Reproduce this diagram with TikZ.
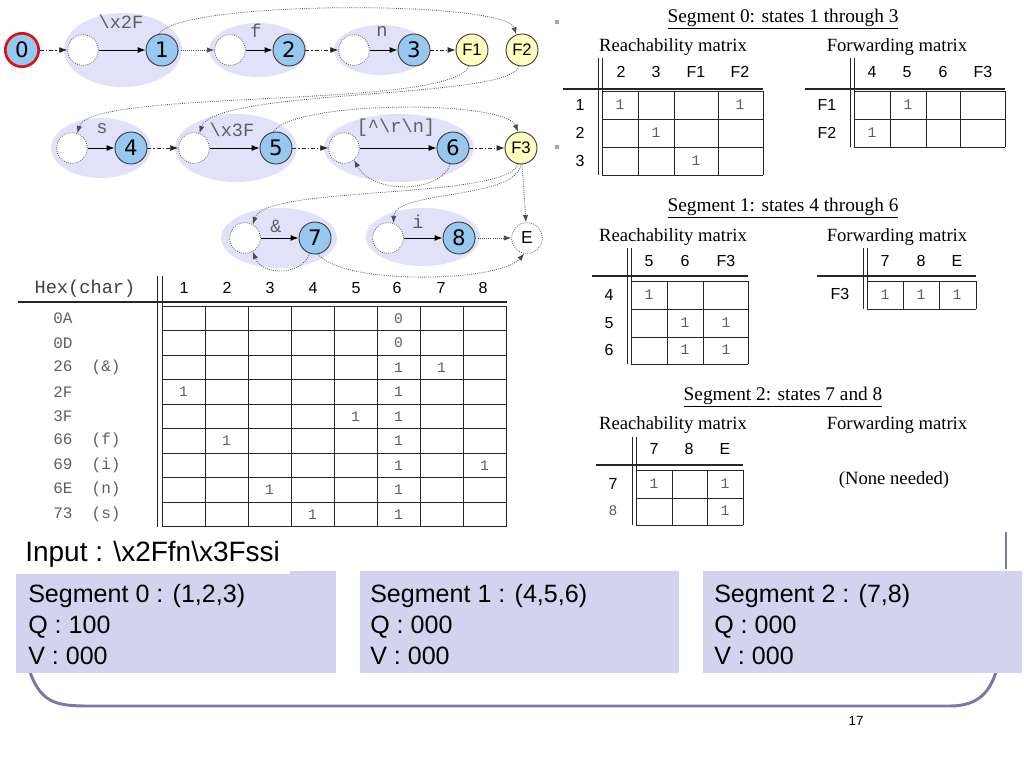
\documentclass[tikz,border=0pt]{standalone}
\usepackage{fontspec}
\setmainfont{Liberation Serif}
\setsansfont{Liberation Sans}
\setmonofont{Liberation Mono}
\newfontfamily\dejavu{DejaVu Sans}
\usetikzlibrary{arrows.meta}
\definecolor{nodeblue}{RGB}{150,200,240}
\definecolor{nodeyellow}{RGB}{255,255,192}
\definecolor{ellfill}{RGB}{225,225,249}
\definecolor{boxfill}{RGB}{211,211,240}
\definecolor{brk}{RGB}{120,120,170}
\definecolor{labgray}{RGB}{95,95,95}
\definecolor{bulc}{RGB}{160,160,200}
\definecolor{redring}{RGB}{215,20,20}
\begin{document}
\begin{tikzpicture}[x=0.75pt,y=-0.75pt,
  st/.style={circle, draw=black!75, line width=0.7pt, fill=nodeblue, minimum size=24pt, inner sep=0pt, font=\dejavu\fontsize{16}{16}\selectfont},
  fst/.style={st, fill=nodeyellow, font=\sffamily\fontsize{12.5}{12.5}\selectfont},
  ghost/.style={circle, draw=black!65, densely dotted, line width=0.6pt, fill=white, minimum size=23pt, inner sep=0pt, font=\sffamily\fontsize{13}{13}\selectfont},
  lab/.style={font=\ttfamily\fontsize{14}{14}\selectfont, text=labgray, inner sep=0pt},
  solidarr/.style={-{Latex[length=6pt,width=4.5pt]}, line width=0.7pt, black},
  dasharr/.style={-{Latex[length=6pt,width=4.5pt]}, line width=0.7pt, black!85, dash pattern=on 3pt off 1.5pt on 1pt off 1.5pt},
  dotarr/.style={-{Latex[length=5.5pt,width=4pt]}, line width=0.6pt, black!70, densely dotted},
  grp/.style={fill=ellfill},
  hdr/.style={font=\sffamily\fontsize{12}{12}\selectfont, inner sep=0pt},
  val/.style={font=\ttfamily\fontsize{11}{11}\selectfont, text=labgray, inner sep=0pt},
  rlab/.style={font=\ttfamily\fontsize{12}{12}\selectfont, text=labgray, inner sep=0pt, anchor=west},
  ttl/.style={font=\rmfamily\fontsize{14.5}{14.5}\selectfont, inner sep=0pt},
  sub/.style={font=\rmfamily\fontsize{14}{14}\selectfont, inner sep=0pt},
  gridl/.style={line width=0.6pt, black!85},
  hline/.style={line width=1.1pt, black!85},
  btxt/.style={font=\sffamily\fontsize{18.8}{20}\selectfont, inner sep=0pt, anchor=base west},
  ]
\useasboundingbox (0,0) rectangle (1024,768);
\fill[white] (0,0) rectangle (1024,768);

% ---------- group ellipses ----------
\fill[grp] (123,50) ellipse [x radius=59, y radius=37];
\fill[grp] (258,50) ellipse [x radius=49, y radius=27];
\fill[grp] (381,50) ellipse [x radius=47, y radius=25];
\fill[grp] (101,148) ellipse [x radius=50, y radius=30];
\fill[grp] (236,148) ellipse [x radius=61, y radius=34];
\fill[grp] (399,148) ellipse [x radius=75, y radius=34];
\fill[grp] (279,238) ellipse [x radius=58, y radius=30];
\fill[grp] (423,237) ellipse [x radius=57, y radius=29];

% ---------- states ----------
\node[st, draw=redring, line width=2pt, minimum size=25pt] (s0) at (22,50) {0};
\node[ghost] (g1) at (83,50) {};
\node[st] (s1) at (162,50) {1};
\node[ghost] (g2) at (230,50) {};
\node[st] (s2) at (289,50) {2};
\node[ghost] (g3) at (354,50) {};
\node[st] (s3) at (414,50) {3};
\node[fst] (F1) at (472,50) {F1};
\node[fst] (F2) at (522,50) {F2};
\node[ghost] (g4) at (72,148) {};
\node[st] (s4) at (131,148) {4};
\node[ghost] (g5) at (194,148) {};
\node[st] (s5) at (276,148) {5};
\node[ghost] (g6) at (344,148) {};
\node[st] (s6) at (453,148) {6};
\node[fst] (F3) at (521,148) {F3};
\node[ghost] (g7) at (245,238) {};
\node[st] (s7) at (315,238) {7};
\node[ghost] (g8) at (388,238) {};
\node[st] (s8) at (459,238) {8};
\node[ghost] (E) at (527,238) {E};

% ---------- edge labels ----------
\node[lab] (l1) at (121,22) {\textbackslash x2F};
\node[lab] (l2) at (256,31) {f};
\node[lab] (l3) at (382,31) {n};
\node[lab] (l4) at (102,129) {s};
\node[lab] (l5) at (232,130) {\textbackslash x3F};
\node[lab] (l6) at (396,128) {[\textasciicircum\textbackslash r\textbackslash n]};
\node[lab] (l7) at (276,226) {\&};
\node[lab] (l8) at (418,222) {i};

% ---------- straight edges ----------
\draw[solidarr] (g1) -- (s1);
\draw[solidarr] (g2) -- (s2);
\draw[solidarr] (g3) -- (s3);
\draw[solidarr] (g4) -- (s4);
\draw[solidarr] (g5) -- (s5);
\draw[solidarr] (g6) -- (s6);
\draw[solidarr] (g7) -- (s7);
\draw[solidarr] (g8) -- (s8);
\draw[dasharr] (s0) -- (g1);
\draw[dotarr] (s1) -- (g2);
\draw[dasharr] (s2) -- (g3);
\draw[dasharr] (s3) -- (F1);
\draw[dasharr] (s4) -- (g5);
\draw[dasharr] (s5) -- (g6);
\draw[dasharr] (s6) -- (F3);
\draw[dotarr] (s8) -- (E);
\draw[dotarr] (F3) -- (E);

% ---------- curved edges ----------
\draw[dotarr] (s1.100) .. controls (180,0) and (505,0) .. (F2.110);
\draw[dotarr] (F1.-100) .. controls (450,110) and (90,88) .. (g4.70);
\draw[dotarr] (F2.-100) .. controls (510,100) and (215,88) .. (g5.70);
\draw[dotarr] (s5.100) .. controls (295,100) and (505,100) .. (F3.100);
\draw[dotarr] (s6.260) .. controls (440,194) and (372,194) .. (g6.-50);
\draw[dotarr] (F3.-100) .. controls (505,200) and (265,185) .. (g7.60);
\draw[dotarr] (F3.-90) .. controls (515,200) and (395,190) .. (g8.70);
\draw[dotarr] (s7.250) .. controls (302,276) and (262,276) .. (g7.-60);
\draw[dotarr] (s7.-80) .. controls (345,286) and (500,282) .. (E.-100);

% ---------- big table ----------
\node[font=\ttfamily\fontsize{14}{14}\selectfont, text=black!75, inner sep=0pt] (hexh) at (85,289) {Hex(char)};
\foreach \c/\xx in {1/184,2/227,3/270,4/313,5/356,6/397,7/441,8/483}
  \node[hdr] (th\c) at (\xx,288) {\c};
\draw[gridl] (157,276) -- (157,527);
\draw[gridl] (162,276) -- (162,527);
\draw[hline] (18,302) -- (507,302);
\foreach \xx in {162,205,248,291,334,377,420,463,506}
  \draw[gridl] (\xx,306) -- (\xx,526.5);
\foreach \k in {0,...,9}
  \draw[gridl] (162,306+24.5*\k) -- (506,306+24.5*\k);
\foreach \r/\t in {1/0A,2/0D,3/26\ \ (\&),4/2F,5/3F,6/66\ \ (f),7/69\ \ (i),8/6E\ \ (n),9/73\ \ (s)}
  \node[rlab] (tr\r) at (53,293.75+24.5*\r) {\t};
\foreach \r/\c/\v in {1/6/0,2/6/0,3/6/1,3/7/1,4/1/1,4/6/1,5/5/1,5/6/1,6/2/1,6/6/1,7/6/1,7/8/1,8/3/1,8/6/1,9/4/1,9/6/1}
  \node[val] (tv\r-\c) at (140.5+43*\c,293.75+24.5*\r) {\v};

% ---------- bullets ----------
\fill[bulc] (555,20) rectangle (559,24);
\fill[bulc] (555,145) rectangle (559,149);

% ---------- Segment 0 ----------
\node[ttl] (t0) at (783,19) {\underline{Segment 0: states 1 through 3}};
\node[sub] (r0lab) at (673,47) {Reachability matrix};
\node[sub] (f0lab) at (897,47) {Forwarding matrix};
\foreach \t/\xx in {2/621,3/656,F1/696,F2/740}
  \node[hdr] (r0h\t) at (\xx,72) {\t};
\draw[gridl] (598,58) -- (598,175);
\draw[hline] (563,89) -- (763,89);
\foreach \xx in {602,638,674,718,763} \draw[gridl] (\xx,91) -- (\xx,175);
\foreach \yy in {91,119,147,175} \draw[gridl] (602,\yy) -- (763,\yy);
\draw[gridl] (602,58) -- (602,91);
\foreach \t/\yy in {1/105,2/133,3/161}
  \node[hdr] (r0r\t) at (580,\yy) {\t};
\node[val] (r0v1) at (620,105) {1};
\node[val] (r0v2) at (740,105) {1};
\node[val] (r0v3) at (656,133) {1};
\node[val] (r0v4) at (696,161) {1};

\foreach \t/\xx in {4/872,5/907,6/943,F3/983}
  \node[hdr] (f0h\t) at (\xx,72) {\t};
\draw[gridl] (850,58) -- (850,147);
\draw[gridl] (854,58) -- (854,91);
\draw[hline] (805,89) -- (1005,89);
\foreach \xx in {854,890,926,960,1005} \draw[gridl] (\xx,91) -- (\xx,147);
\foreach \yy in {91,119,147} \draw[gridl] (854,\yy) -- (1005,\yy);
\node[hdr] (f0r1) at (827,105) {F1};
\node[hdr] (f0r2) at (827,133) {F2};
\node[val] (f0v1) at (908,105) {1};
\node[val] (f0v2) at (872,133) {1};

% ---------- Segment 1 ----------
\node[ttl] (t1) at (783,208) {\underline{Segment 1: states 4 through 6}};
\node[sub] (r1lab) at (673,237) {Reachability matrix};
\node[sub] (f1lab) at (897,237) {Forwarding matrix};
\foreach \t/\xx in {5/649,6/685,F3/726}
  \node[hdr] (r1h\t) at (\xx,261) {\t};
\draw[gridl] (627,248) -- (627,364);
\draw[gridl] (631,248) -- (631,281);
\draw[hline] (592,276) -- (748,276);
\foreach \xx in {631,667,703,748} \draw[gridl] (\xx,281) -- (\xx,364);
\foreach \yy in {281,309,337,364} \draw[gridl] (631,\yy) -- (748,\yy);
\foreach \t/\yy in {4/295,5/323,6/350}
  \node[hdr] (r1r\t) at (609,\yy) {\t};
\node[val] (r1v1) at (649,295) {1};
\node[val] (r1v2) at (685,323) {1};
\node[val] (r1v3) at (726,323) {1};
\node[val] (r1v4) at (685,350) {1};
\node[val] (r1v5) at (726,350) {1};

\foreach \t/\xx in {7/885,8/921,E/957}
  \node[hdr] (f1h\t) at (\xx,261) {\t};
\draw[gridl] (863,248) -- (863,309);
\draw[gridl] (867,248) -- (867,281);
\draw[hline] (817,276) -- (976,276);
\foreach \xx in {867,903,939,976} \draw[gridl] (\xx,281) -- (\xx,309);
\foreach \yy in {281,309} \draw[gridl] (867,\yy) -- (976,\yy);
\node[hdr] (f1r1) at (840,294) {F3};
\node[val] (f1v1) at (885,295) {1};
\node[val] (f1v2) at (921,295) {1};
\node[val] (f1v3) at (957,295) {1};

% ---------- Segment 2 ----------
\node[ttl] (t2) at (783,397) {\underline{Segment 2: states 7 and 8}};
\node[sub] (r2lab) at (673,425) {Reachability matrix};
\node[sub] (f2lab) at (897,425) {Forwarding matrix};
\foreach \t/\xx in {7/654,8/689,E/725}
  \node[hdr] (r2h\t) at (\xx,449) {\t};
\draw[gridl] (632,437) -- (632,525);
\draw[gridl] (636,437) -- (636,470);
\draw[hline] (596,465) -- (743,465);
\foreach \xx in {636,672,707,743} \draw[gridl] (\xx,470) -- (\xx,525);
\foreach \yy in {470,498,525} \draw[gridl] (636,\yy) -- (743,\yy);
\node[hdr] (r2r1) at (613,484) {7};
\node[val] (r2r2) at (613,511) {8};
\node[val] (r2v1) at (654,484) {1};
\node[val] (r2v2) at (725,484) {1};
\node[val] (r2v3) at (725,511) {1};
\node[sub] (none) at (894,480) {(None needed)};

% ---------- bottom ----------
\draw[brk, line width=2pt] (1006,532) -- (1006,569);
\draw[brk, line width=2.2pt] (30,672) .. controls (42,706) and (60,706) .. (95,706) -- (950,706) .. controls (980,706) and (990,690) .. (996,672);
\fill[boxfill] (16,571) rectangle (336,673);
\fill[boxfill] (360,571) rectangle (679,673);
\fill[boxfill] (703,571) rectangle (1022,673);
\fill[white] (16,535) rectangle (290,574);
\node[font=\sffamily\fontsize{21}{22}\selectfont, inner sep=0pt, anchor=base west] (inp) at (25,561) {Input : \textbackslash x2Ffn\textbackslash x3Fssi};
\node[btxt] (b0a) at (28,602) {Segment 0 : (1,2,3)};
\node[btxt] (b0b) at (28,633) {Q : 100};
\node[btxt] (b0c) at (28,664) {V : 000};
\node[btxt] (b1a) at (370,602) {Segment 1 : (4,5,6)};
\node[btxt] (b1b) at (370,633) {Q : 000};
\node[btxt] (b1c) at (370,664) {V : 000};
\node[btxt] (b2a) at (714,602) {Segment 2 : (7,8)};
\node[btxt] (b2b) at (714,633) {Q : 000};
\node[btxt] (b2c) at (714,664) {V : 000};
\node[font=\sffamily\fontsize{10}{10}\selectfont, inner sep=0pt] (pg) at (856,721) {17};
\end{tikzpicture}
\end{document}
